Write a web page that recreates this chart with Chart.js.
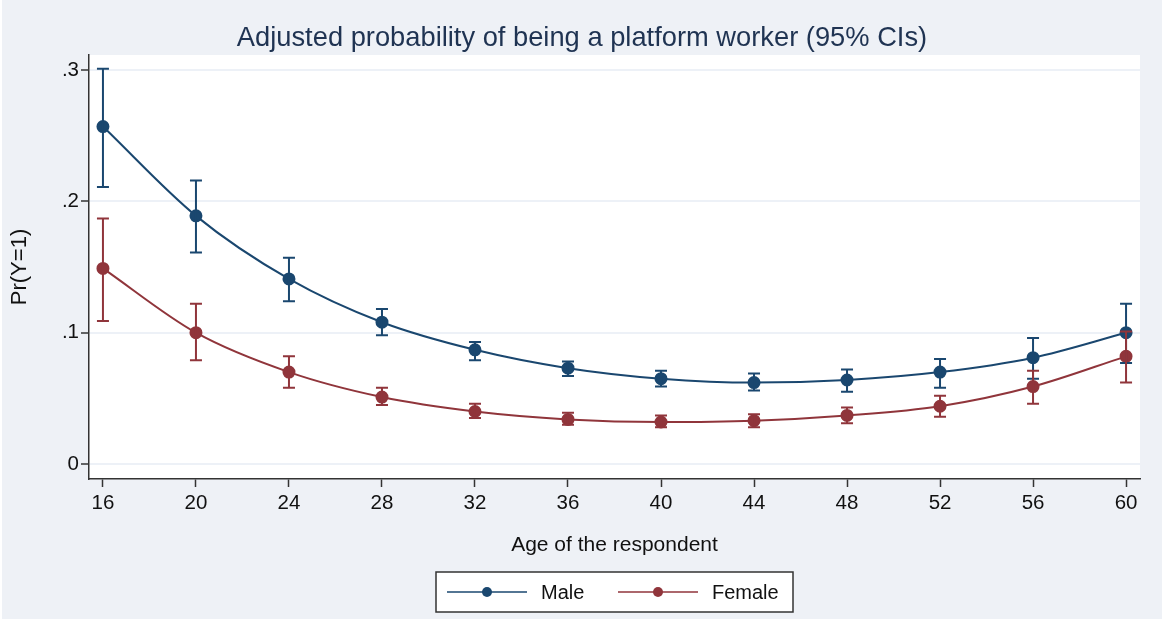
<!DOCTYPE html>
<html>
<head>
<meta charset="utf-8">
<script src="https://cdn.jsdelivr.net/npm/chart.js@4.4.1/dist/chart.umd.min.js"></script>
<style>
  html, body { margin: 0; padding: 0; background: #fff; }
  #wrap { position: absolute; left: 2px; top: 0; width: 1160px; height: 619px; }
</style>
</head>
<body>
<div id="wrap"><canvas id="chart" width="1160" height="619"></canvas></div>
<script>
// Age grid and predicted margins with 95% confidence bounds
const AGES = [16, 20, 24, 28, 32, 36, 40, 44, 48, 52, 56, 60];

const MALE    = [0.257, 0.189, 0.141, 0.108, 0.087, 0.073, 0.065, 0.062, 0.064, 0.070, 0.081, 0.100];
const MALE_LO = [0.211, 0.161, 0.124, 0.098, 0.079, 0.067, 0.059, 0.056, 0.055, 0.058, 0.065, 0.077];
const MALE_HI = [0.301, 0.216, 0.157, 0.118, 0.093, 0.078, 0.071, 0.069, 0.072, 0.080, 0.096, 0.122];

const FEMALE    = [0.149, 0.100, 0.070, 0.051, 0.040, 0.034, 0.032, 0.033, 0.037, 0.044, 0.059, 0.082];
const FEMALE_LO = [0.109, 0.079, 0.058, 0.045, 0.035, 0.030, 0.028, 0.028, 0.031, 0.036, 0.046, 0.062];
const FEMALE_HI = [0.187, 0.122, 0.082, 0.058, 0.046, 0.039, 0.037, 0.038, 0.043, 0.052, 0.071, 0.101];

const Y_TICKS = [0, 0.1, 0.2, 0.3];
const Y_LABELS = ['0', '.1', '.2', '.3'];

const TITLE = 'Adjusted probability of being a platform worker (95% CIs)';

const NAVY = '#1a476f';
const MAROON = '#90353b';
const BG = '#eef1f6';
const FONT = '"Liberation Sans", Arial, sans-serif';

const toXY = (vals) => vals.map((v, i) => ({ x: AGES[i], y: v }));

// whole canvas light background, plot region white
const background = {
  id: 'background',
  beforeDraw(chart) {
    const { ctx, chartArea: a } = chart;
    ctx.save();
    ctx.fillStyle = BG;
    ctx.fillRect(0, 0, chart.width, chart.height);
    ctx.fillStyle = '#fff';
    ctx.fillRect(a.left, a.top, a.right - a.left, a.bottom - a.top);
    ctx.restore();
  },
};

// title sits a little right of the canvas centre
const graphTitle = {
  id: 'graphTitle',
  afterDraw(chart) {
    const { ctx } = chart;
    ctx.save();
    ctx.font = '27.3px ' + FONT;
    ctx.fillStyle = '#1f3352';
    ctx.textAlign = 'center';
    ctx.textBaseline = 'middle';
    ctx.fillText(TITLE, 580, 38);
    ctx.restore();
  },
};

// capped vertical CI bars, placed through the chart scales
const errorBars = {
  id: 'errorBars',
  afterDatasetsDraw(chart) {
    const { ctx, scales: { x, y } } = chart;
    ctx.save();
    ctx.lineWidth = 2;
    chart.data.datasets.forEach(ds => {
      ctx.strokeStyle = ds.borderColor;
      AGES.forEach((age, i) => {
        const px = x.getPixelForValue(age);
        const lo = y.getPixelForValue(ds.ciLo[i]);
        const hi = y.getPixelForValue(ds.ciHi[i]);
        ctx.beginPath();
        ctx.moveTo(px, lo); ctx.lineTo(px, hi);
        ctx.moveTo(px - 6, lo); ctx.lineTo(px + 6, lo);
        ctx.moveTo(px - 6, hi); ctx.lineTo(px + 6, hi);
        ctx.stroke();
      });
    });
    ctx.restore();
  },
};

// boxed legend under the x axis title
const boxLegend = {
  id: 'boxLegend',
  afterDraw(chart) {
    const { ctx } = chart;
    const box = { x: 434, y: 572, w: 357, h: 40 };
    ctx.save();
    ctx.fillStyle = '#fff';
    ctx.fillRect(box.x, box.y, box.w, box.h);
    ctx.strokeStyle = '#333';
    ctx.lineWidth = 1.5;
    ctx.strokeRect(box.x, box.y, box.w, box.h);
    const cy = box.y + box.h / 2;
    ctx.font = '20px ' + FONT;
    ctx.textBaseline = 'middle';
    chart.data.datasets.forEach((ds, i) => {
      const x0 = box.x + 11 + i * 171;
      ctx.strokeStyle = ds.borderColor;
      ctx.lineWidth = 1.5;
      ctx.beginPath();
      ctx.moveTo(x0, cy); ctx.lineTo(x0 + 80, cy);
      ctx.stroke();
      ctx.fillStyle = ds.borderColor;
      ctx.beginPath();
      ctx.arc(x0 + 40, cy, 5, 0, Math.PI * 2);
      ctx.fill();
      ctx.fillStyle = '#111';
      ctx.fillText(ds.label, x0 + 94, cy + 1);
    });
    ctx.restore();
  },
};

new Chart(document.getElementById('chart'), {
  type: 'line',
  data: {
    datasets: [
      {
        label: 'Male', data: toXY(MALE), ciLo: MALE_LO, ciHi: MALE_HI,
        borderColor: NAVY, backgroundColor: NAVY, borderWidth: 2,
        pointRadius: 5.5, pointHoverRadius: 5.5, cubicInterpolationMode: 'monotone',
      },
      {
        label: 'Female', data: toXY(FEMALE), ciLo: FEMALE_LO, ciHi: FEMALE_HI,
        borderColor: MAROON, backgroundColor: MAROON, borderWidth: 2,
        pointRadius: 5.5, pointHoverRadius: 5.5, cubicInterpolationMode: 'monotone',
      },
    ],
  },
  options: {
    responsive: false,
    animation: false,
    layout: { padding: { left: 0, right: 22, top: 55, bottom: 55 } },
    plugins: {
      legend: { display: false },
      tooltip: { enabled: false },
      title: { display: false },
    },
    scales: {
      x: {
        type: 'linear', min: 15.4, max: 60.6,
        afterBuildTicks: s => { s.ticks = AGES.map(v => ({ value: v })); },
        afterFit: s => { s.height = 85; },
        border: { color: '#333', width: 1.5 },
        grid: { drawOnChartArea: false, tickLength: 8, tickColor: '#333', tickWidth: 1.5 },
        ticks: { color: '#111', font: { family: FONT, size: 20.5 }, padding: 4, maxRotation: 0 },
        title: {
          display: true, text: 'Age of the respondent', color: '#111',
          font: { family: FONT, size: 21 }, padding: { top: 0, bottom: 6 },
        },
      },
      y: {
        min: -0.0114, max: 0.3115,
        afterBuildTicks: s => { s.ticks = Y_TICKS.map(v => ({ value: v })); },
        afterFit: s => { s.width = 87; },
        border: { color: '#333', width: 1.5 },
        grid: { color: '#edf1f7', lineWidth: 2, tickLength: 8, tickColor: '#333', tickWidth: 1.5 },
        ticks: {
          color: '#111', font: { family: FONT, size: 20.5 }, padding: 2,
          callback: (v) => Y_LABELS[Y_TICKS.indexOf(v)] ?? '',
        },
        title: {
          display: true, text: 'Pr(Y=1)', color: '#111',
          font: { family: FONT, size: 22 }, padding: { top: 5, bottom: 0 },
        },
      },
    },
  },
  plugins: [background, errorBars, graphTitle, boxLegend],
});
</script>
</body>
</html>
